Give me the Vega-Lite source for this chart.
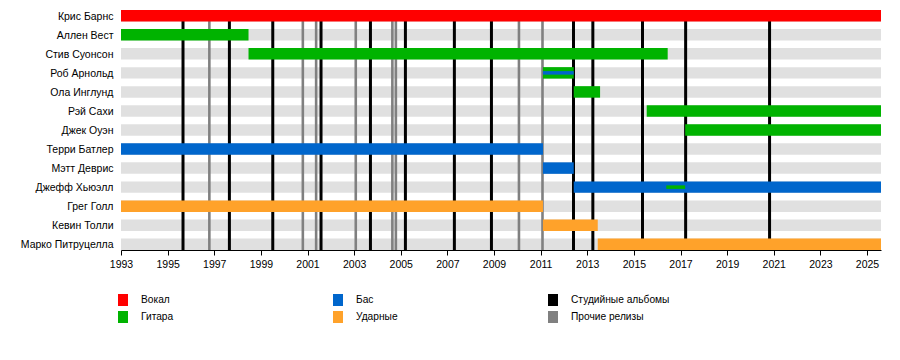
{
  "$schema": "https://vega.github.io/schema/vega-lite/v6.json",
  "width": 760,
  "height": 240,
  "autosize": {"type": "none"},
  "padding": {"left": 121, "top": 10, "right": 19, "bottom": 110},
  "background": "white",
  "config": {
    "view": {"stroke": null},
    "font": "Liberation Sans",
    "legend": {
      "title": null, "orient": "none", "legendX": -4, "legendY": 284,
      "columns": 3, "direction": "horizontal", "gridAlign": "all",
      "columnPadding": 92, "rowPadding": 5, "padding": 0,
      "symbolType": "M-0.833,-1H0.833V1H-0.833Z", "symbolSize": 144,
      "symbolStrokeWidth": 0, "symbolOpacity": 1,
      "labelOffset": 12, "labelFontSize": 10.2, "labelColor": "#000", "labelFont": "Liberation Sans"
    }
  },
  "datasets": {
    "members": [
      {"name": "Крис Барнс"}, {"name": "Аллен Вест"}, {"name": "Стив Суонсон"}, {"name": "Роб Арнольд"},
      {"name": "Ола Инглунд"}, {"name": "Рэй Сахи"}, {"name": "Джек Оуэн"}, {"name": "Терри Батлер"},
      {"name": "Мэтт Деврис"}, {"name": "Джефф Хьюэлл"}, {"name": "Грег Голл"}, {"name": "Кевин Толли"},
      {"name": "Марко Питруцелла"}
    ],
    "bars": [
      {"name": "Крис Барнс", "role": "Вокал", "start": 1993, "end": 2025.6},
      {"name": "Аллен Вест", "role": "Гитара", "start": 1993, "end": 1998.47},
      {"name": "Стив Суонсон", "role": "Гитара", "start": 1998.47, "end": 2016.45},
      {"name": "Роб Арнольд", "role": "Гитара", "start": 2011.1, "end": 2012.42},
      {"name": "Ола Инглунд", "role": "Гитара", "start": 2012.42, "end": 2013.55},
      {"name": "Рэй Сахи", "role": "Гитара", "start": 2015.55, "end": 2025.6},
      {"name": "Джек Оуэн", "role": "Гитара", "start": 2017.2, "end": 2025.6},
      {"name": "Терри Батлер", "role": "Бас", "start": 1993, "end": 2011.1},
      {"name": "Мэтт Деврис", "role": "Бас", "start": 2011.1, "end": 2012.42},
      {"name": "Джефф Хьюэлл", "role": "Бас", "start": 2012.42, "end": 2025.6},
      {"name": "Грег Голл", "role": "Ударные", "start": 1993, "end": 2011.1},
      {"name": "Кевин Толли", "role": "Ударные", "start": 2011.1, "end": 2013.45},
      {"name": "Марко Питруцелла", "role": "Ударные", "start": 2013.45, "end": 2025.6}
    ],
    "thin": [
      {"name": "Роб Арнольд", "role": "Бас", "start": 2011.1, "end": 2012.42},
      {"name": "Джефф Хьюэлл", "role": "Гитара", "start": 2016.39, "end": 2017.2}
    ],
    "albums": [
      {"year": 1995.66, "type": "Студийные альбомы"},
      {"year": 1996.79, "type": "Прочие релизы"},
      {"year": 1997.65, "type": "Студийные альбомы"},
      {"year": 1999.51, "type": "Студийные альбомы"},
      {"year": 2000.8, "type": "Прочие релизы"},
      {"year": 2001.37, "type": "Прочие релизы"},
      {"year": 2001.58, "type": "Студийные альбомы"},
      {"year": 2003.07, "type": "Прочие релизы"},
      {"year": 2003.7, "type": "Студийные альбомы"},
      {"year": 2004.64, "type": "Прочие релизы"},
      {"year": 2004.79, "type": "Прочие релизы"},
      {"year": 2005.2, "type": "Студийные альбомы"},
      {"year": 2007.3, "type": "Студийные альбомы"},
      {"year": 2008.89, "type": "Студийные альбомы"},
      {"year": 2010.07, "type": "Прочие релизы"},
      {"year": 2011.08, "type": "Прочие релизы"},
      {"year": 2012.41, "type": "Студийные альбомы"},
      {"year": 2013.24, "type": "Студийные альбомы"},
      {"year": 2015.37, "type": "Студийные альбомы"},
      {"year": 2017.22, "type": "Студийные альбомы"},
      {"year": 2020.82, "type": "Студийные альбомы"}
    ]
  },
  "layer": [
    {
      "data": {"name": "members"},
      "mark": {"type": "bar", "color": "#e0e0e0"},
      "encoding": {
        "y": {
          "field": "name", "type": "nominal",
          "scale": {
            "domain": ["Крис Барнс","Аллен Вест","Стив Суонсон","Роб Арнольд","Ола Инглунд","Рэй Сахи","Джек Оуэн","Терри Батлер","Мэтт Деврис","Джефф Хьюэлл","Грег Голл","Кевин Толли","Марко Питруцелла"],
            "paddingInner": 0.397, "paddingOuter": 0, "align": 1
          },
          "axis": {"title": null, "ticks": false, "domain": false, "labelPadding": 8, "labelFontSize": 10.5, "labelColor": "#000", "labelFont": "Liberation Sans", "labelOffset": 1}
        },
        "x": {"datum": 1993, "type": "quantitative",
          "scale": {"domain": [1993, 2025.6], "nice": false, "zero": false},
          "axis": {
            "title": null,
            "values": [1993,1994,1995,1996,1997,1998,1999,2000,2001,2002,2003,2004,2005,2006,2007,2008,2009,2010,2011,2012,2013,2014,2015,2016,2017,2018,2019,2020,2021,2022,2023,2024,2025],
            "labelExpr": "datum.value % 2 == 1 ? format(datum.value, 'd') : ''",
            "labelFlush": false, "labelOverlap": false,
            "tickSize": {"condition": {"test": "datum.value % 2 == 1", "value": 5}, "value": 3},
            "tickColor": "#000", "domainColor": "#000", "grid": false,
            "labelFontSize": 10.5, "labelColor": "#000", "labelPadding": 4, "labelFont": "Liberation Sans"
          }
        },
        "x2": {"datum": 2025.6}
      }
    },
    {
      "data": {"name": "albums"},
      "mark": {"type": "rule"},
      "encoding": {
        "x": {"field": "year", "type": "quantitative"},
        "color": {"field": "type", "type": "nominal"},
        "strokeWidth": {"condition": {"test": "datum.type === 'Студийные альбомы'", "value": 3}, "value": 2.6}
      }
    },
    {
      "data": {"name": "bars"},
      "mark": {"type": "bar"},
      "encoding": {
        "y": {"field": "name", "type": "nominal"},
        "x": {"field": "start", "type": "quantitative"},
        "x2": {"field": "end"},
        "color": {
          "field": "role", "type": "nominal",
          "scale": {
            "domain": ["Вокал","Бас","Студийные альбомы","Гитара","Ударные","Прочие релизы"],
            "range": ["#ff0000","#0066cc","#000000","#00b300","#ffa22a","#808080"]
          }
        }
      }
    },
    {
      "data": {"name": "thin"},
      "mark": {"type": "bar", "size": 3.5},
      "encoding": {
        "y": {"field": "name", "type": "nominal"},
        "x": {"field": "start", "type": "quantitative"},
        "x2": {"field": "end"},
        "color": {"field": "role", "type": "nominal"}
      }
    }
  ]
}
